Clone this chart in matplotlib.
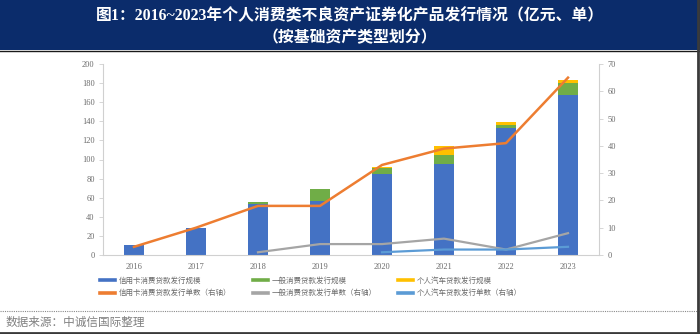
import matplotlib
matplotlib.use("Agg")
import matplotlib.pyplot as plt
from matplotlib.lines import Line2D
from matplotlib.patches import Rectangle
import numpy as np

plt.rcParams['font.family'] = ['Liberation Serif', 'Noto Sans CJK SC', 'DejaVu Sans']

years = ['2016', '2017', '2018', '2019', '2020', '2021', '2022', '2023']

# issuance amount (亿元), left axis
card_amt = [10, 28, 53, 57, 85, 95, 133, 168]
general_amt = [0, 0, 2.5, 12.5, 6, 10, 3, 12]
auto_amt = [0, 0, 0, 0, 1.5, 9, 3, 3]

# number of deals (单), right axis
card_cnt = [3, 10, 18, 18, 33, 39, 41, 65]
general_cnt = [None, None, 1, 4, 4, 6, 2, 8]
auto_cnt = [None, None, None, None, 1, 2, 2, 3]

legend_labels = ['信用卡消费贷款发行规模', '一般消费贷款发行规模', '个人汽车贷款发行规模',
                 '信用卡消费贷款发行单数（右轴）', '一般消费贷款发行单数（右轴）', '个人汽车贷款发行单数（右轴）']

title_line1 = '图1：2016~2023年个人消费类不良资产证券化产品发行情况（亿元、单）'
title_line2 = '（按基础资产类型划分）'
source_text = '数据来源：中诚信国际整理'

c_blue, c_green, c_yellow = '#4472C4', '#70AD47', '#FFC000'
c_orange, c_gray, c_lblue = '#ED7D31', '#A5A5A5', '#5B9BD5'
tick_color = '#6b6b6b'
axis_color = '#D0D0D0'

W, H = 700, 334
fig = plt.figure(figsize=(W / 100, H / 100), dpi=100)
fig.patch.set_facecolor('white')

# header banner
fig.add_artist(Rectangle((0, 1 - 50 / H), 1, 50 / H, transform=fig.transFigure,
                         facecolor='#0B2C6B', edgecolor='none', zorder=0))
fig.add_artist(Line2D([0, 1], [1 - 50.5 / H] * 2, transform=fig.transFigure,
                      color='#1a1a1a', lw=1.0))
fig.text(0.5, 1 - 16 / H, title_line1, ha='center', va='center', color='white',
         fontsize=11.4, fontweight='bold')
fig.text(0.5, 1 - 38 / H, title_line2, ha='center', va='center', color='white',
         fontsize=11.4, fontweight='bold')

# plot area
ax_l, ax_r, ax_t, ax_b = 103, 599, 64, 255
ax = fig.add_axes([ax_l / W, 1 - ax_b / H, (ax_r - ax_l) / W, (ax_b - ax_t) / H])
x = np.arange(len(years))
bw = 0.31
card = np.array(card_amt, float)
gen = np.array(general_amt, float)
auto = np.array(auto_amt, float)
ax.bar(x, card, bw, color=c_blue, zorder=2)
ax.bar(x, gen, bw, bottom=card, color=c_green, zorder=2)
ax.bar(x, auto, bw, bottom=card + gen, color=c_yellow, zorder=2)

ax.set_xlim(-0.5, len(years) - 0.5)
ax.set_ylim(0, 200)
ax.set_yticks(np.arange(0, 201, 20))
ax.set_xticks(x)
ax.set_xticklabels(years)
ax.tick_params(axis='y', colors=tick_color, labelsize=6, length=3, width=0.6,
               color=axis_color, pad=3)
ax.tick_params(axis='x', colors=tick_color, labelsize=6, length=0, pad=6)
for s in ['top', 'right']:
    ax.spines[s].set_visible(False)
for s in ['left', 'bottom']:
    ax.spines[s].set_color(axis_color)
    ax.spines[s].set_linewidth(0.8)

ax2 = ax.twinx()
ax2.set_ylim(0, 70)
ax2.set_yticks(np.arange(0, 71, 10))
ax2.tick_params(axis='y', colors=tick_color, labelsize=6, length=3, width=0.6,
                color=axis_color, pad=3)
for s in ['top', 'left', 'bottom']:
    ax2.spines[s].set_visible(False)
ax2.spines['right'].set_color(axis_color)
ax2.spines['right'].set_linewidth(0.8)

def series(vals):
    xs = [i for i, v in enumerate(vals) if v is not None]
    ys = [v for v in vals if v is not None]
    return xs, ys

ax2.plot(*series(card_cnt), color=c_orange, lw=1.8, zorder=3)
ax2.plot(*series(general_cnt), color=c_gray, lw=1.6, zorder=3)
ax2.plot(*series(auto_cnt), color=c_lblue, lw=1.6, zorder=3)

for t in ax.get_xticklabels() + ax.get_yticklabels() + ax2.get_yticklabels():
    t.set_family(['Liberation Serif'])

# legend
handles = [Line2D([], [], color=c, lw=2.6) for c in
           [c_blue, c_green, c_yellow, c_orange, c_gray, c_lblue]]
order = [0, 3, 1, 4, 2, 5]
leg = fig.legend([handles[i] for i in order], [legend_labels[i] for i in order],
                 ncol=3, loc='upper left', bbox_to_anchor=(97 / W, 1 - 274 / H),
                 frameon=False, prop={'family': ['Noto Sans CJK SC'], 'size': 5.4},
                 handlelength=2.0, handletextpad=0.5, columnspacing=2.85,
                 labelspacing=0.55, borderaxespad=0)
for t in leg.get_texts():
    t.set_color(tick_color)

# footer
fig.add_artist(Line2D([0, 1], [1 - 310.5 / H] * 2, transform=fig.transFigure,
                      color='#8a8a8a', lw=0.8, ls=(0, (1, 1))))
fig.text(5 / W, 1 - 322 / H, source_text, ha='left', va='center', color='#808080',
         fontsize=8.4, family=['Noto Sans CJK SC'])
fig.add_artist(Line2D([0, 1], [1.5 / H] * 2, transform=fig.transFigure,
                      color='#3a3a3a', lw=2))
fig.add_artist(Line2D([1 - 2 / W] * 2, [0, 1], transform=fig.transFigure,
                      color='#3a3a3a', lw=2))

fig.savefig('out.png', dpi=100)
